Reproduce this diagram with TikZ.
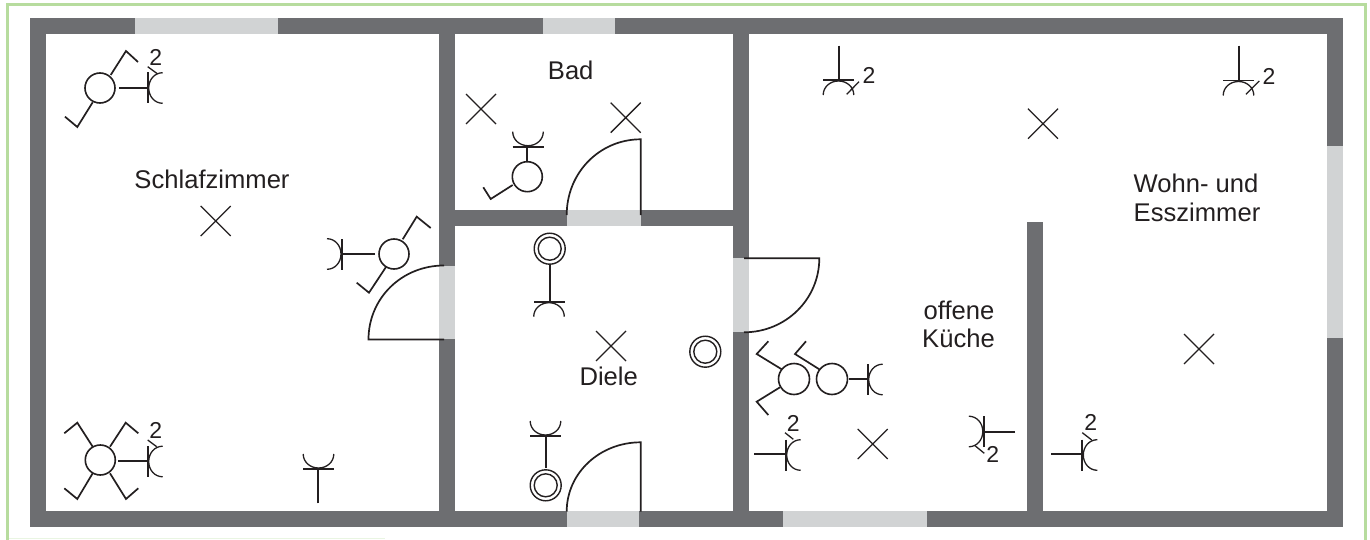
\documentclass[tikz,border=0pt]{standalone}
\usepackage{fontspec}
\setmainfont{Liberation Sans}
\definecolor{wallc}{HTML}{6D6E71}
\definecolor{openc}{HTML}{D1D3D4}
\definecolor{framec}{HTML}{B7DC9E}
\definecolor{inkc}{HTML}{231F20}
\newcommand{\lbl}{\fontsize{12.8}{14}\selectfont}
\newcommand{\numl}{\fontsize{11.5}{13}\selectfont}
\tikzset{
  wall/.style={fill=wallc,draw=none},
  opening/.style={fill=openc,draw=none},
  sym/.style={draw=inkc,line width=.85pt,line cap=butt,line join=miter},
  thin sym/.style={draw=inkc,line width=.65pt},
  lamp/.style={draw=inkc,line width=.8pt,fill=white},
  ring/.style={draw=inkc,line width=.7pt,fill=white},
  roomtext/.style={text=inkc,inner sep=0pt,anchor=base},
  numtext/.style={text=inkc,inner sep=0pt,anchor=center},
  pics/xmark/.style={code={\draw[thin sym] (-15,-15)--(15,15) (-15,15)--(15,-15);}},
  pics/socket/.style={code={\draw[sym] (0,-15.5)--(0,15.5);
    \draw[thin sym] (15,-15.3) .. controls (7,-15.3) and (1,-8.4) .. (1,0) .. controls (1,8.4) and (7,15.3) .. (15,15.3);}},
  pics/dbl/.style={code={\draw[ring] (0,0) circle[radius=15.5]; \draw[ring] (0,0) circle[radius=11.5];}},
}
\begin{document}
\begin{tikzpicture}[x=0.5pt,y=-0.5pt]
\useasboundingbox (0,0) rectangle (1370,540);
\fill[white] (0,0) rectangle (1370,540);
% frame
\draw[framec!30,line width=.6pt] (7.5,538.7) -- (385,538.7);
\draw[framec,line width=1.4pt] (7.5,540) -- (7.5,4.7) -- (1365.3,4.7) -- (1365.3,540);
% walls
\fill[wall] (30,18) rectangle (1343,34);
\fill[wall] (30,511) rectangle (1343,527);
\fill[wall] (30,18) rectangle (46,527);
\fill[wall] (1327,18) rectangle (1343,527);
\fill[wall] (439,18) rectangle (455,527);
\fill[wall] (733,18) rectangle (749,527);
\fill[wall] (455,210) rectangle (733,226);
\fill[wall] (1027,222) rectangle (1043,527);
% openings
\fill[opening] (135,18) rectangle (278,34);
\fill[opening] (543,18) rectangle (615,34);
\fill[opening] (567,210) rectangle (641,226);
\fill[opening] (439,266) rectangle (455,339);
\fill[opening] (733,258) rectangle (749,332);
\fill[opening] (567,511) rectangle (639,527);
\fill[opening] (783,511) rectangle (927,527);
\fill[opening] (1327,146) rectangle (1343,338);
% doors
\draw[sym] (444,339.5) -- (368.5,339.5) .. controls (368.5,298) and (402,265.5) .. (444,265.5);
\draw[sym] (640.7,215) -- (640.7,139.3) .. controls (599.8,139.3) and (566.7,172.5) .. (566.7,215);
\draw[sym] (640.7,511.5) -- (640.7,442.3) .. controls (599.8,442.3) and (566.7,473) .. (566.7,511.5);
\draw[sym] (744,258.3) -- (819.3,258.3) .. controls (819.3,299.5) and (785.5,332.3) .. (744,332.3);
% crosses
\pic at (215.7,221) {xmark};
\pic at (481,109) {xmark};
\pic at (625.7,117.7) {xmark};
\pic at (611,346) {xmark};
\pic at (872.7,444) {xmark};
\pic at (1043,123.7) {xmark};
\pic at (1199,349) {xmark};
% Schlafzimmer top-left
\draw[lamp] (100,88) circle[radius=15];
\draw[sym] (119,88) -- (148,88);
\pic at (147.7,88) {socket};
\draw[thin sym] (147.7,66.7) -- (157.7,74);
\draw[sym] (110.7,75) -- (126,51) -- (138,62);
\draw[sym] (92.7,102.3) -- (77.3,127) -- (65,116.7);
% Schlafzimmer near door
\draw[lamp] (394,254) circle[radius=15];
\draw[sym] (375,254) -- (342,254);
\pic[rotate=180] at (342,254) {socket};
\draw[sym] (402.7,239.3) -- (416.7,216.7) -- (430.7,228);
\draw[sym] (386,267) -- (369,292.7) -- (356.7,282.7);
% Schlafzimmer bottom-left
\draw[lamp] (100.3,460) circle[radius=15];
\draw[sym] (118.3,461) -- (147.7,461);
\pic at (147.7,461.5) {socket};
\draw[thin sym] (147.7,440) -- (156.7,446.7);
\draw[sym] (110,446.7) -- (125.7,422.7) -- (138.3,433.3);
\draw[sym] (92.7,446.7) -- (77.3,422.7) -- (64.3,433.3);
\draw[sym] (110,473.3) -- (126,499) -- (138.3,488.3);
\draw[sym] (92.7,473.3) -- (77.3,499) -- (64.3,488.3);
% Schlafzimmer socket bottom
\draw[sym] (318,503.3) -- (318,469);
\pic[rotate=90] at (318.5,469) {socket};
% Bad lamp
\draw[lamp] (527.3,176.7) circle[radius=15];
\draw[sym] (527.3,161.7) -- (527.3,146.7);
\pic[rotate=90] at (528,146.7) {socket};
\draw[sym] (512.7,185) -- (490.7,199) -- (483.3,187.3);
% Diele upper
\pic at (549.7,248.7) {dbl};
\draw[sym] (549.7,264.2) -- (549.7,301.7);
\pic[rotate=-90] at (549,301.7) {socket};
% Diele right
\pic at (705.3,351.7) {dbl};
% Diele lower
\pic at (545.7,485.3) {dbl};
\draw[sym] (545.7,467.7) -- (545.7,436);
\pic[rotate=90] at (545.5,436) {socket};
% Kueche lamps
\draw[lamp] (794,379) circle[radius=15.5];
\draw[lamp] (832,379) circle[radius=15.5];
\draw[sym] (849.3,379) -- (867.7,379);
\pic at (867.7,379.5) {socket};
\draw[sym] (819.3,369.3) -- (795,354) -- (806,341.3);
\draw[sym] (781.7,369.3) -- (756.7,354) -- (768.3,341.3);
\draw[sym] (780,387.3) -- (756.7,401.7) -- (768.3,415);
% Kueche socket left
\draw[sym] (754,454) -- (785.7,454);
\pic at (785.7,455) {socket};
\draw[thin sym] (785,432.7) -- (793.3,439.3);
% Kueche socket right
\draw[sym] (1015,431.7) -- (983.3,431.7);
\pic[rotate=180] at (983.8,431.5) {socket};
\draw[thin sym] (975,445.7) -- (984.3,453.3);
% Wohn socket bottom
\draw[sym] (1051,454.3) -- (1082.3,454.3);
\pic at (1082.3,455) {socket};
\draw[thin sym] (1082.3,432.7) -- (1091.7,440);
% Top sockets
\draw[sym] (839,45.7) -- (839,80);
\pic[rotate=-90] at (838.5,80) {socket};
\draw[thin sym] (846.7,94.3) -- (859,81.7);
\draw[sym] (1239,45.7) -- (1239,80);
\pic[rotate=-90] at (1238.5,80.5) {socket};
\draw[thin sym] (1246,94.3) -- (1259.3,81);
% numbers
\node[numtext,font=\numl] (n1) at (155.7,57) {2};
\node[numtext,font=\numl] (n2) at (155.7,430) {2};
\node[numtext,font=\numl] (n3) at (869,75) {2};
\node[numtext,font=\numl] (n4) at (1269,76.7) {2};
\node[numtext,font=\numl] (n5) at (793.3,423.3) {2};
\node[numtext,font=\numl] (n6) at (992.7,454.3) {2};
\node[numtext,font=\numl] (n7) at (1090.7,422.7) {2};
% room labels
\node[roomtext,font=\lbl] (schlaf) at (212,188.3) {Schlafzimmer};
\node[roomtext,font=\lbl] (bad) at (570.7,79.3) {Bad};
\node[roomtext,font=\lbl] (diele) at (608.7,385) {Diele};
\node[roomtext,font=\lbl,anchor=base west] (wohn) at (1133.3,192.3) {Wohn- und};
\node[roomtext,font=\lbl,anchor=base west] (ess) at (1133.3,221.7) {Esszimmer};
\node[roomtext,font=\lbl] (off) at (959,319.3) {offene};
\node[roomtext,font=\lbl] (kue) at (958.5,347.7) {Küche};
\end{tikzpicture}
\end{document}
